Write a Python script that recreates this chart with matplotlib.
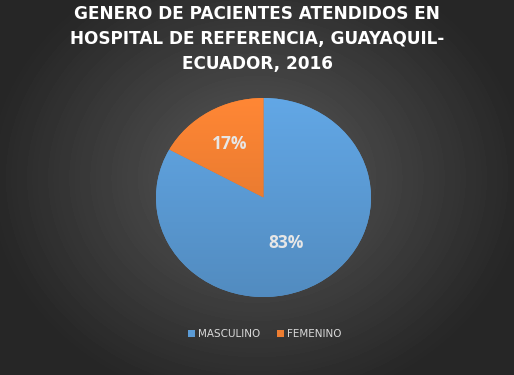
import numpy as np
import matplotlib.pyplot as plt
import matplotlib.colors as mcolors

# Data
labels = ['MASCULINO', 'FEMENINO']
values = [83, 17]
colors = ['#5B9BD5', '#ED7D31']
title = 'GENERO DE PACIENTES ATENDIDOS EN\nHOSPITAL DE REFERENCIA, GUAYAQUIL-\nECUADOR, 2016'

fig = plt.figure(figsize=(5.14, 3.75), dpi=100)

# radial background
bg = fig.add_axes([0, 0, 1, 1])
yy, xx = np.mgrid[-1:1:375j, -1:1:514j]
rr = np.sqrt((xx * 1.0) ** 2 + ((yy + 0.05) * 0.85) ** 2)
shade = np.clip(0.35 - 0.19 * rr, 0.15, 0.36)
bg.imshow(shade, cmap='gray', vmin=0, vmax=1, aspect='auto', extent=[0, 1, 0, 1])
bg.set_axis_off()

fig.text(0.5, 0.896, title, ha='center', va='center', color='white',
         fontsize=12.2, fontweight='bold', family='DejaVu Sans', linespacing=1.5)

ax = fig.add_axes([0.3035, 0.208, 0.4183, 0.5307])
wedges, _ = ax.pie(values, colors=colors, startangle=90, counterclock=False,
                   radius=1.0)
ax.set_aspect('auto')
ax.set_xlim(-1, 1)
ax.set_ylim(-1, 1)

# soft vertical gradient on each slice
for w, c in zip(wedges, colors):
    base = np.array(mcolors.to_rgb(c))
    grad = np.linspace(1.08, 0.9, 256)[:, None, None] * base[None, None, :]
    grad = np.clip(np.repeat(grad, 2, axis=1), 0, 1)
    im = ax.imshow(grad, extent=[-1, 1, -1, 1], aspect='auto', zorder=2)
    im.set_clip_path(w)

dist = [0.5, 0.62]
for w, d, v in zip(wedges, dist, values):
    ang = np.deg2rad((w.theta1 + w.theta2) / 2 - 6 * (v > 50))
    ax.text(d * np.cos(ang), d * np.sin(ang), f'{v}%', ha='center', va='center',
            color='#e6e6e6', fontsize=12.5, fontweight='bold', family='Open Sans',
            zorder=3)

leg = fig.legend(wedges, labels, loc='center', bbox_to_anchor=(0.515, 0.109),
                 ncol=2, frameon=False, fontsize=7.5, handlelength=0.7,
                 handleheight=0.7, handletextpad=0.3, columnspacing=1.6)
for t in leg.get_texts():
    t.set_color('#d9d9d9')

fig.savefig('out.png', dpi=100)
